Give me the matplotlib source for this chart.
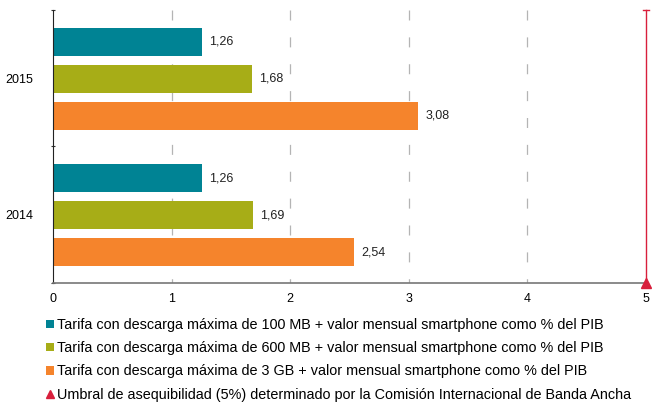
import matplotlib
matplotlib.use("Agg")
import matplotlib.pyplot as plt
from matplotlib.patches import Patch
from matplotlib.lines import Line2D

# Data
years = ["2014", "2015"]
tarifa_100mb = [1.26, 1.26]
tarifa_600mb = [1.69, 1.68]
tarifa_3gb = [2.54, 3.08]
umbral = 5

series_labels = [
    "Tarifa con descarga máxima de 100 MB + valor mensual smartphone como % del PIB",
    "Tarifa con descarga máxima de 600 MB + valor mensual smartphone como % del PIB",
    "Tarifa con descarga máxima de 3 GB + valor mensual smartphone como % del PIB",
]
umbral_label = "Umbral de asequibilidad (5%) determinado por la Comisión Internacional de Banda Ancha"

colors = ["#008394", "#a7ad17", "#f5842c"]
red = "#d81f3c"

plt.rcParams['font.family'] = ['Liberation Sans', 'DejaVu Sans']

fig = plt.figure(figsize=(6.52, 4.04), dpi=100)
ax = fig.add_axes([53 / 652, 1 - 283 / 404, (646 - 53) / 652, (283 - 10) / 404])

offsets = [0.769, 0.498, 0.227]
bar_h = 0.205
for series, off, col in zip([tarifa_100mb, tarifa_600mb, tarifa_3gb], offsets, colors):
    ys = [i + off for i in range(len(years))]
    ax.barh(ys, series, height=bar_h, color=col, zorder=2)
    for y, v in zip(ys, series):
        ax.text(v + 0.06, y, f"{v:.2f}".replace(".", ","), va="center", ha="left",
                fontsize=9, color="#222222")

# threshold line
ax.plot([umbral, umbral], [0, 2], color=red, lw=1.0, zorder=3, clip_on=False)
ax.plot([umbral - 0.025, umbral + 0.025], [2, 2], color=red, lw=1.0, clip_on=False)
ax.plot([umbral], [0], marker="^", color=red, markersize=7, clip_on=False, zorder=4)

ax.set_xlim(0, 5)
ax.set_ylim(0, 2)
ax.set_xticks([0, 1, 2, 3, 4, 5])
ax.set_xticklabels(["0", "1", "2", "3", "4", "5"], fontsize=9)
ax.set_yticks([0, 1, 2])
ax.set_yticklabels([])
ax.set_yticks([0.5, 1.5], minor=True)
ax.set_yticklabels(years, minor=True, fontsize=9)
ax.tick_params(axis="y", which="minor", length=0, pad=14)
ax.tick_params(axis="y", which="major", length=3, direction="inout", color="#333333")
ax.tick_params(axis="x", length=0, pad=7)

# dashed grid, pattern starting from the top
for x in [1, 2, 3, 4]:
    ax.plot([x, x], [2, 0], color="#b4b4b4", lw=0.9, ls=(0, (8, 13.5)), zorder=1)

for s in ["top", "right"]:
    ax.spines[s].set_visible(False)
ax.spines["left"].set_color("#222222")
ax.spines["bottom"].set_color("#777777")
ax.spines["bottom"].set_linewidth(1.2)

handles = [Patch(facecolor=c, edgecolor="none") for c in colors]
handles.append(Line2D([], [], marker="^", color=red, ls="none", markersize=6))
fig.legend(handles, series_labels + [umbral_label], loc="upper left",
           bbox_to_anchor=(46 / 652, 1 - 318 / 404), frameon=False, fontsize=10.4,
           handlelength=0.55, handleheight=0.55, handletextpad=0.2, labelspacing=0.64,
           borderpad=0, borderaxespad=0)

fig.savefig("out.png", dpi=100)
